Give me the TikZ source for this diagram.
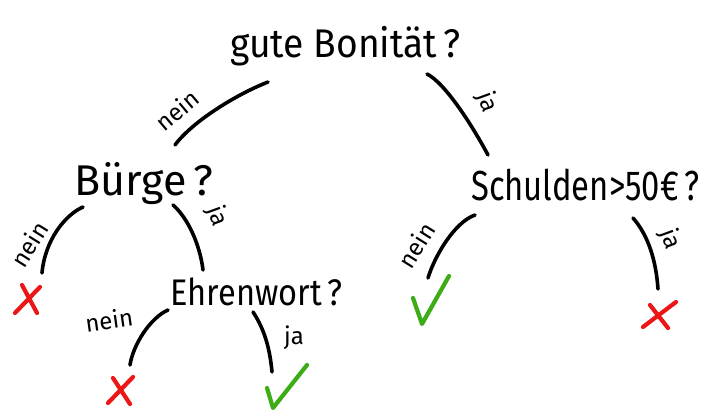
\documentclass[tikz,border=0pt]{standalone}
\usepackage{fontspec}
\setmainfont{Fira Sans}
\begin{document}
\begin{tikzpicture}[x=1pt,y=-1pt,
  question/.style={inner sep=0pt,anchor=base west,font=\fontsize{40}{40}\selectfont,transform shape},
  edgelabel/.style={inner sep=0pt,font=\fontsize{24}{24}\selectfont},
  branch/.style={line width=3.6pt,line cap=round,line join=round},
  nomark/.style={line width=4.2pt,line cap=round,draw={rgb,255:red,236;green,22;blue,22}},
  yesmark/.style={line width=4.2pt,line cap=round,line join=round,draw={rgb,255:red,62;green,172;blue,22}}]
\useasboundingbox (0,0) rectangle (721,411);

% questions
\node[question,xscale=0.93] (root) at (230,58) {gute Bonität\,?};
\node[question,xscale=1.0,font=\fontsize{43}{43}\selectfont] (buerge) at (74,196) {Bürge\,?};
\node[question,xscale=0.78,font=\fontsize{42}{42}\selectfont] (schulden) at (471,201) {Schulden>50€\,?};
\node[question,xscale=0.88,font=\fontsize{37}{37}\selectfont] (ehren) at (170,306) {Ehrenwort\,?};

% branch end points
\coordinate (root-n) at (268,82);
\coordinate (root-j) at (427,74);
\coordinate (buerge-top) at (175,145);
\coordinate (schulden-top) at (488,155);
\coordinate (buerge-n) at (83,207);
\coordinate (buerge-j) at (173,205);
\coordinate (ehren-top) at (203,270);
\coordinate (x1-top) at (42,273);
\coordinate (ehren-n) at (168,310);
\coordinate (ehren-j) at (253,312);
\coordinate (x2-top) at (130,365);
\coordinate (c2-top) at (272,372);
\coordinate (schulden-n) at (475,215);
\coordinate (schulden-j) at (633,218);
\coordinate (c1-top) at (428,278);
\coordinate (x3-top) at (658,289);

% branches
\draw[branch] (root-n) .. controls (235,95) and (192,122) .. (buerge-top);
\draw[branch] (root-j) .. controls (445,83) and (472,125) .. (schulden-top);
\draw[branch] (buerge-n) .. controls (65,215) and (45,240) .. (x1-top);
\draw[branch] (buerge-j) .. controls (188,218) and (200,245) .. (ehren-top);
\draw[branch] (ehren-n) .. controls (150,318) and (133,345) .. (x2-top);
\draw[branch] (ehren-j) .. controls (265,330) and (270,350) .. (c2-top);
\draw[branch] (schulden-n) .. controls (455,222) and (435,255) .. (c1-top);
\draw[branch] (schulden-j) .. controls (648,235) and (656,260) .. (x3-top);

% branch labels
\node[edgelabel,rotate=40] (l1) at (177,110) {nein};
\node[edgelabel,rotate=-70] (l2) at (487,102) {ja};
\node[edgelabel,rotate=58] (l3) at (29,244) {nein};
\node[edgelabel,rotate=-70] (l4) at (217,216) {ja};
\node[edgelabel,rotate=8] (l5) at (109,320) {nein};
\node[edgelabel] (l6) at (294,338) {ja};
\node[edgelabel,rotate=58] (l7) at (416,245) {nein};
\node[edgelabel,rotate=-70] (l8) at (670,239) {ja};

% leaf marks
\coordinate (x1) at (27,299);
\coordinate (x2) at (120,391);
\coordinate (x3) at (659,315);
\draw[nomark,shift={(x1)}] (-5,-14) -- (10,14) (13,-12) -- (-12,14);
\draw[nomark,shift={(x2)}] (-7,-13) -- (10,13) (13,-14) -- (-12,12);
\draw[nomark,shift={(x3)}] (-16,12) -- (17,-13) (-9,-10) -- (9,13);
\draw[yesmark] (413,298) -- (422,324) -- (449,276);
\draw[yesmark] (267,388) -- (273,408) -- (307,365);
\end{tikzpicture}
\end{document}
